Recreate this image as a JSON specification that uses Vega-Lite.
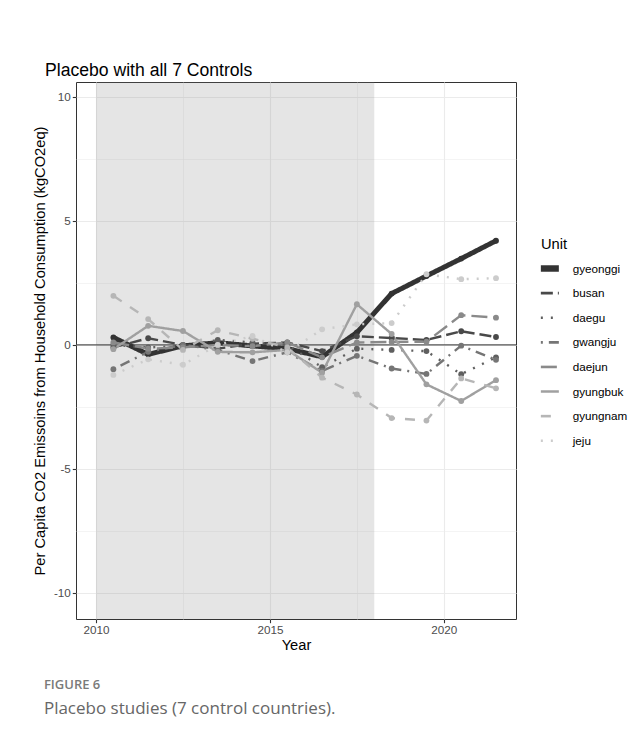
{
  "$schema": "https://vega.github.io/schema/vega-lite/v6.json",
  "padding": {"left": 31, "top": 61, "right": 0, "bottom": 20},
  "background": "white",
  "title": {
    "text": "FIGURE 6",
    "subtitle": "Placebo studies (7 control countries).",
    "orient": "bottom",
    "anchor": "start",
    "font": "Open Sans",
    "fontSize": 13,
    "fontWeight": 600,
    "color": "#7a7a7a",
    "subtitleFont": "Open Sans",
    "subtitleFontSize": 17,
    "subtitleColor": "#666666",
    "subtitlePadding": 9,
    "offset": 26,
    "dx": 12
  },
  "datasets": {
    "series": [
      {"unit": "gyeonggi", "year": 2010.5, "value": 0.3},
      {"unit": "gyeonggi", "year": 2011.5, "value": -0.38},
      {"unit": "gyeonggi", "year": 2012.5, "value": -0.04},
      {"unit": "gyeonggi", "year": 2013.5, "value": 0.09},
      {"unit": "gyeonggi", "year": 2014.5, "value": -0.04},
      {"unit": "gyeonggi", "year": 2015.5, "value": -0.15},
      {"unit": "gyeonggi", "year": 2016.5, "value": -0.48},
      {"unit": "gyeonggi", "year": 2017.5, "value": 0.5},
      {"unit": "gyeonggi", "year": 2018.5, "value": 2.07},
      {"unit": "gyeonggi", "year": 2019.5, "value": 2.78},
      {"unit": "gyeonggi", "year": 2020.5, "value": 3.48},
      {"unit": "gyeonggi", "year": 2021.5, "value": 4.2},
      {"unit": "busan", "year": 2010.5, "value": -0.1},
      {"unit": "busan", "year": 2011.5, "value": 0.27},
      {"unit": "busan", "year": 2012.5, "value": 0.0},
      {"unit": "busan", "year": 2013.5, "value": -0.15},
      {"unit": "busan", "year": 2014.5, "value": 0.05},
      {"unit": "busan", "year": 2015.5, "value": 0.1},
      {"unit": "busan", "year": 2016.5, "value": -0.25},
      {"unit": "busan", "year": 2017.5, "value": 0.35},
      {"unit": "busan", "year": 2018.5, "value": 0.28},
      {"unit": "busan", "year": 2019.5, "value": 0.2},
      {"unit": "busan", "year": 2020.5, "value": 0.55},
      {"unit": "busan", "year": 2021.5, "value": 0.32},
      {"unit": "daegu", "year": 2010.5, "value": 0.0},
      {"unit": "daegu", "year": 2011.5, "value": -0.1},
      {"unit": "daegu", "year": 2012.5, "value": -0.05},
      {"unit": "daegu", "year": 2013.5, "value": 0.2},
      {"unit": "daegu", "year": 2014.5, "value": 0.1},
      {"unit": "daegu", "year": 2015.5, "value": 0.0},
      {"unit": "daegu", "year": 2016.5, "value": -0.9},
      {"unit": "daegu", "year": 2017.5, "value": -0.15},
      {"unit": "daegu", "year": 2018.5, "value": -0.2},
      {"unit": "daegu", "year": 2019.5, "value": -0.25},
      {"unit": "daegu", "year": 2020.5, "value": -1.18},
      {"unit": "daegu", "year": 2021.5, "value": -0.5},
      {"unit": "gwangju", "year": 2010.5, "value": -0.98},
      {"unit": "gwangju", "year": 2011.5, "value": -0.28},
      {"unit": "gwangju", "year": 2012.5, "value": 0.0},
      {"unit": "gwangju", "year": 2013.5, "value": -0.2},
      {"unit": "gwangju", "year": 2014.5, "value": -0.65},
      {"unit": "gwangju", "year": 2015.5, "value": -0.3},
      {"unit": "gwangju", "year": 2016.5, "value": -1.05},
      {"unit": "gwangju", "year": 2017.5, "value": -0.44},
      {"unit": "gwangju", "year": 2018.5, "value": -0.95},
      {"unit": "gwangju", "year": 2019.5, "value": -1.17},
      {"unit": "gwangju", "year": 2020.5, "value": -0.03},
      {"unit": "gwangju", "year": 2021.5, "value": -0.6},
      {"unit": "daejun", "year": 2010.5, "value": 0.1},
      {"unit": "daejun", "year": 2011.5, "value": -0.15},
      {"unit": "daejun", "year": 2012.5, "value": -0.1},
      {"unit": "daejun", "year": 2013.5, "value": 0.0},
      {"unit": "daejun", "year": 2014.5, "value": -0.05},
      {"unit": "daejun", "year": 2015.5, "value": 0.1},
      {"unit": "daejun", "year": 2016.5, "value": -0.5},
      {"unit": "daejun", "year": 2017.5, "value": 0.1},
      {"unit": "daejun", "year": 2018.5, "value": 0.12},
      {"unit": "daejun", "year": 2019.5, "value": 0.13},
      {"unit": "daejun", "year": 2020.5, "value": 1.2},
      {"unit": "daejun", "year": 2021.5, "value": 1.1},
      {"unit": "gyungbuk", "year": 2010.5, "value": -0.17},
      {"unit": "gyungbuk", "year": 2011.5, "value": 0.77},
      {"unit": "gyungbuk", "year": 2012.5, "value": 0.56},
      {"unit": "gyungbuk", "year": 2013.5, "value": -0.28},
      {"unit": "gyungbuk", "year": 2014.5, "value": -0.3},
      {"unit": "gyungbuk", "year": 2015.5, "value": -0.2},
      {"unit": "gyungbuk", "year": 2016.5, "value": -1.12},
      {"unit": "gyungbuk", "year": 2017.5, "value": 1.64},
      {"unit": "gyungbuk", "year": 2018.5, "value": 0.44},
      {"unit": "gyungbuk", "year": 2019.5, "value": -1.59},
      {"unit": "gyungbuk", "year": 2020.5, "value": -2.26},
      {"unit": "gyungbuk", "year": 2021.5, "value": -1.42},
      {"unit": "gyungnam", "year": 2010.5, "value": 1.98},
      {"unit": "gyungnam", "year": 2011.5, "value": 1.04},
      {"unit": "gyungnam", "year": 2012.5, "value": -0.2},
      {"unit": "gyungnam", "year": 2013.5, "value": 0.59},
      {"unit": "gyungnam", "year": 2014.5, "value": 0.25},
      {"unit": "gyungnam", "year": 2015.5, "value": -0.1},
      {"unit": "gyungnam", "year": 2016.5, "value": -1.32},
      {"unit": "gyungnam", "year": 2017.5, "value": -2.0},
      {"unit": "gyungnam", "year": 2018.5, "value": -2.95},
      {"unit": "gyungnam", "year": 2019.5, "value": -3.05},
      {"unit": "gyungnam", "year": 2020.5, "value": -1.35},
      {"unit": "gyungnam", "year": 2021.5, "value": -1.75},
      {"unit": "jeju", "year": 2010.5, "value": -1.21},
      {"unit": "jeju", "year": 2011.5, "value": -0.58},
      {"unit": "jeju", "year": 2012.5, "value": -0.8},
      {"unit": "jeju", "year": 2013.5, "value": 0.0},
      {"unit": "jeju", "year": 2014.5, "value": 0.36},
      {"unit": "jeju", "year": 2015.5, "value": -0.3},
      {"unit": "jeju", "year": 2016.5, "value": 0.63},
      {"unit": "jeju", "year": 2017.5, "value": 0.83},
      {"unit": "jeju", "year": 2018.5, "value": 0.88},
      {"unit": "jeju", "year": 2019.5, "value": 2.85},
      {"unit": "jeju", "year": 2020.5, "value": 2.65},
      {"unit": "jeju", "year": 2021.5, "value": 2.69}
    ],
    "period": [{"start": 2010, "end": 2018}],
    "zero": [{"level": 0}]
  },
  "vconcat": [
    {
      "width": 440,
      "height": 537,
      "title": {
        "text": "Placebo with all 7 Controls",
        "anchor": "start",
        "frame": "group",
        "font": "Liberation Sans",
        "fontSize": 17.6,
        "fontWeight": "normal",
        "color": "#000000",
        "dx": -31,
        "offset": 2
      },
      "layer": [
        {
          "data": {"name": "period"},
          "mark": {"type": "rect", "color": "#7f7f7f", "opacity": 0.2},
          "encoding": {
            "x": {"field": "start", "type": "quantitative"},
            "x2": {"field": "end"}
          }
        },
        {
          "data": {"name": "zero"},
          "mark": {"type": "rule", "color": "#555555", "strokeWidth": 1.1},
          "encoding": {"y": {"field": "level", "type": "quantitative"}}
        },
        {
          "data": {"name": "series"},
          "mark": {"type": "line"},
          "encoding": {
            "x": {"field": "year", "type": "quantitative"},
            "y": {"field": "value", "type": "quantitative"},
            "color": {
              "field": "unit",
              "type": "nominal",
              "title": "Unit",
              "scale": {
                "domain": ["gyeonggi", "busan", "daegu", "gwangju", "daejun", "gyungbuk", "gyungnam", "jeju"],
                "range": ["#333333", "#494949", "#5f5f5f", "#757575", "#8a8a8a", "#a0a0a0", "#b6b6b6", "#cccccc"]
              },
              "legend": {
                "encode": {
                  "symbols": {
                    "update": {
                      "strokeWidth": {"signal": "datum.value === 'gyeonggi' ? 6.5 : 2.6"}
                    }
                  }
                }
              }
            },
            "strokeDash": {
              "field": "unit",
              "type": "nominal",
              "title": "Unit",
              "scale": {
                "domain": ["gyeonggi", "busan", "daegu", "gwangju", "daejun", "gyungbuk", "gyungnam", "jeju"],
                "range": [[1, 0], [12, 5], [2, 8], [2, 6, 10, 6], [16, 6], [1, 0], [10, 10], [2, 8]]
              }
            },
            "strokeWidth": {
              "condition": {"test": "datum.unit === 'gyeonggi'", "value": 5},
              "value": 2.4
            }
          }
        },
        {
          "data": {"name": "series"},
          "mark": {"type": "point", "filled": true, "size": 34, "opacity": 1},
          "encoding": {
            "x": {"field": "year", "type": "quantitative"},
            "y": {"field": "value", "type": "quantitative"},
            "color": {"field": "unit", "type": "nominal", "legend": null}
          }
        }
      ],
      "encoding": {
        "x": {
          "type": "quantitative",
          "scale": {"domain": [2009.425, 2022.075], "nice": false, "zero": false},
          "axis": {
            "title": "Year",
            "values": [2010, 2012.5, 2015, 2017.5, 2020],
            "labelExpr": "datum.value % 5 === 0 ? '' + datum.value : ''",
            "gridWidth": {"condition": {"test": "datum.value % 5 === 0", "value": 1.1}, "value": 0.55},
            "tickOpacity": {"condition": {"test": "datum.value % 5 === 0", "value": 1}, "value": 0},
            "labelPadding": 2,
            "titlePadding": 1
          }
        },
        "y": {
          "type": "quantitative",
          "scale": {"domain": [-11.05, 10.6], "nice": false, "zero": false},
          "axis": {
            "title": "Per Capita CO2 Emissoins from Household Consumption (kgCO2eq)",
            "values": [-10, -7.5, -5, -2.5, 0, 2.5, 5, 7.5, 10],
            "labelExpr": "datum.value % 5 === 0 ? '' + datum.value : ''",
            "gridWidth": {"condition": {"test": "datum.value % 5 === 0", "value": 1.1}, "value": 0.55},
            "tickOpacity": {"condition": {"test": "datum.value % 5 === 0", "value": 1}, "value": 0},
            "labelPadding": 2,
            "titlePadding": 6
          }
        }
      }
    }
  ],
  "config": {
    "font": "Liberation Sans",
    "view": {"stroke": "#333333", "strokeWidth": 1},
    "axis": {
      "domain": false,
      "grid": true,
      "gridColor": "#ebebeb",
      "labelColor": "#4d4d4d",
      "labelFont": "Liberation Sans",
      "labelFontSize": 11.7,
      "titleFont": "Liberation Sans",
      "titleFontSize": 14.7,
      "titleFontWeight": "normal",
      "titleColor": "#000000",
      "tickColor": "#333333",
      "tickSize": 3.7,
      "tickWidth": 1.1
    },
    "legend": {
      "orient": "none",
      "legendX": 465,
      "legendY": 155,
      "gridAlign": "all",
      "symbolType": "stroke",
      "symbolSize": 324,
      "symbolStrokeWidth": 2.6,
      "symbolOffset": 3,
      "rowPadding": 5.6,
      "titleFont": "Liberation Sans",
      "titleFontSize": 14.7,
      "titleFontWeight": "normal",
      "titleColor": "#000000",
      "titlePadding": 11,
      "labelFont": "Liberation Sans",
      "labelFontSize": 11.7,
      "labelColor": "#000000",
      "labelOffset": 17
    }
  }
}
